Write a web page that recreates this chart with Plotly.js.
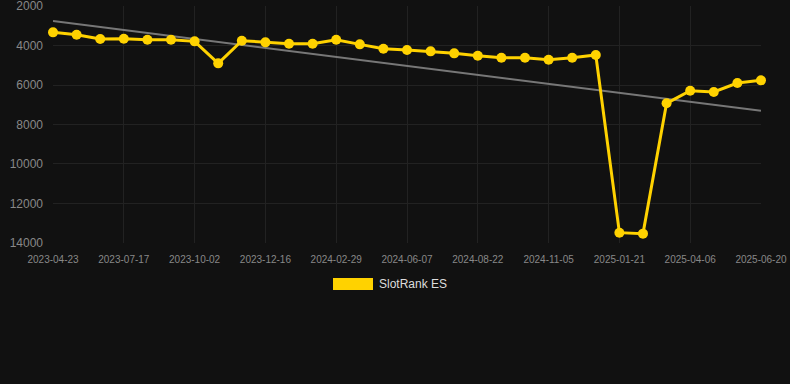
<!DOCTYPE html>
<html>
<head>
<meta charset="utf-8">
<script src="https://cdn.plot.ly/plotly-3.0.1.min.js"></script>
<style>
  html, body { margin: 0; padding: 0; background: #111111; }
  #chart { width: 790px; height: 384px; }
</style>
</head>
<body>
<div id="chart"></div>
<script>
const dates = [
  "2023-04-23","2023-05-21","2023-06-18","2023-07-17","2023-08-12","2023-09-07",
  "2023-10-02","2023-10-27","2023-11-21","2023-12-16","2024-01-10","2024-02-04",
  "2024-02-29","2024-04-01","2024-05-04","2024-06-07","2024-07-02","2024-07-27",
  "2024-08-22","2024-09-16","2024-10-11","2024-11-05","2024-11-30","2024-12-26",
  "2025-01-21","2025-02-15","2025-03-12","2025-04-06","2025-05-01","2025-05-26",
  "2025-06-20"
];
const rankES = [
  3333, 3453, 3671, 3654, 3705, 3705,
  3789, 4903, 3755, 3840, 3907, 3907,
  3705, 3941, 4160, 4228, 4296, 4397,
  4515, 4616, 4616, 4717, 4616, 4481,
  13478, 13527, 6928, 6287, 6354, 5899,
  5764
];
const seriesName = "SlotRank ES";
const yTicks = [2000, 4000, 6000, 8000, 10000, 12000, 14000];

// linear regression trend over the series
const n = rankES.length;
let sx = 0, sy = 0, sxx = 0, sxy = 0;
rankES.forEach((v, i) => { sx += i; sy += v; sxx += i * i; sxy += i * v; });
const slope = (n * sxy - sx * sy) / (n * sxx - sx * sx);
const intercept = (sy - slope * sx) / n;
const trend = rankES.map((v, i) => intercept + slope * i);

const traces = [
  {
    x: dates, y: trend, type: "scatter", mode: "lines",
    line: { color: "#777777", width: 2 },
    hoverinfo: "skip", showlegend: false, cliponaxis: false
  },
  {
    x: dates, y: rankES, type: "scatter", mode: "lines+markers",
    name: seriesName,
    line: { color: "#FFD200", width: 3 },
    marker: { color: "#FFD200", size: 10 },
    showlegend: false, cliponaxis: false
  }
];

const layout = {
  width: 790, height: 384,
  paper_bgcolor: "#111111", plot_bgcolor: "#111111",
  margin: { l: 53, r: 29, t: 6, b: 141 },
  font: { family: "Liberation Sans, Arial, sans-serif", color: "#888888" },
  showlegend: false,
  xaxis: {
    type: "category",
    range: [-0.001, n - 1 + 0.001],
    tickmode: "linear", tick0: 0, dtick: 3,
    showgrid: true, gridcolor: "#222222", gridwidth: 1,
    zeroline: false, showline: false,
    ticks: "", ticklabelstandoff: 9,
    ticklabeloverflow: "allow",
    tickangle: 0,
    tickfont: { size: 10, color: "#888888" }
  },
  yaxis: {
    range: [14001, 1999],
    tickvals: yTicks,
    ticktext: yTicks.map(String),
    showgrid: true, gridcolor: "#222222", gridwidth: 1,
    zeroline: false, showline: false,
    ticks: "", ticklabelstandoff: 9,
    ticklabeloverflow: "allow",
    tickfont: { size: 12, color: "#888888" }
  },
  shapes: [
    {
      type: "rect", xref: "paper", yref: "paper",
      x0: (333 - 53) / 708, x1: (373 - 53) / 708,
      y0: (384 - 141 - 290) / 237, y1: (384 - 141 - 278) / 237,
      fillcolor: "#FFD200", line: { width: 0 }
    }
  ],
  annotations: [
    {
      text: seriesName, xref: "paper", yref: "paper",
      x: (377 - 53) / 708, y: (384 - 141 - 284) / 237,
      xanchor: "left", yanchor: "middle", showarrow: false,
      font: { size: 12, color: "#DDDDDD", family: "Liberation Sans, Arial, sans-serif" }
    }
  ]
};

Plotly.newPlot("chart", traces, layout, { displayModeBar: false, staticPlot: true });
</script>
</body>
</html>
